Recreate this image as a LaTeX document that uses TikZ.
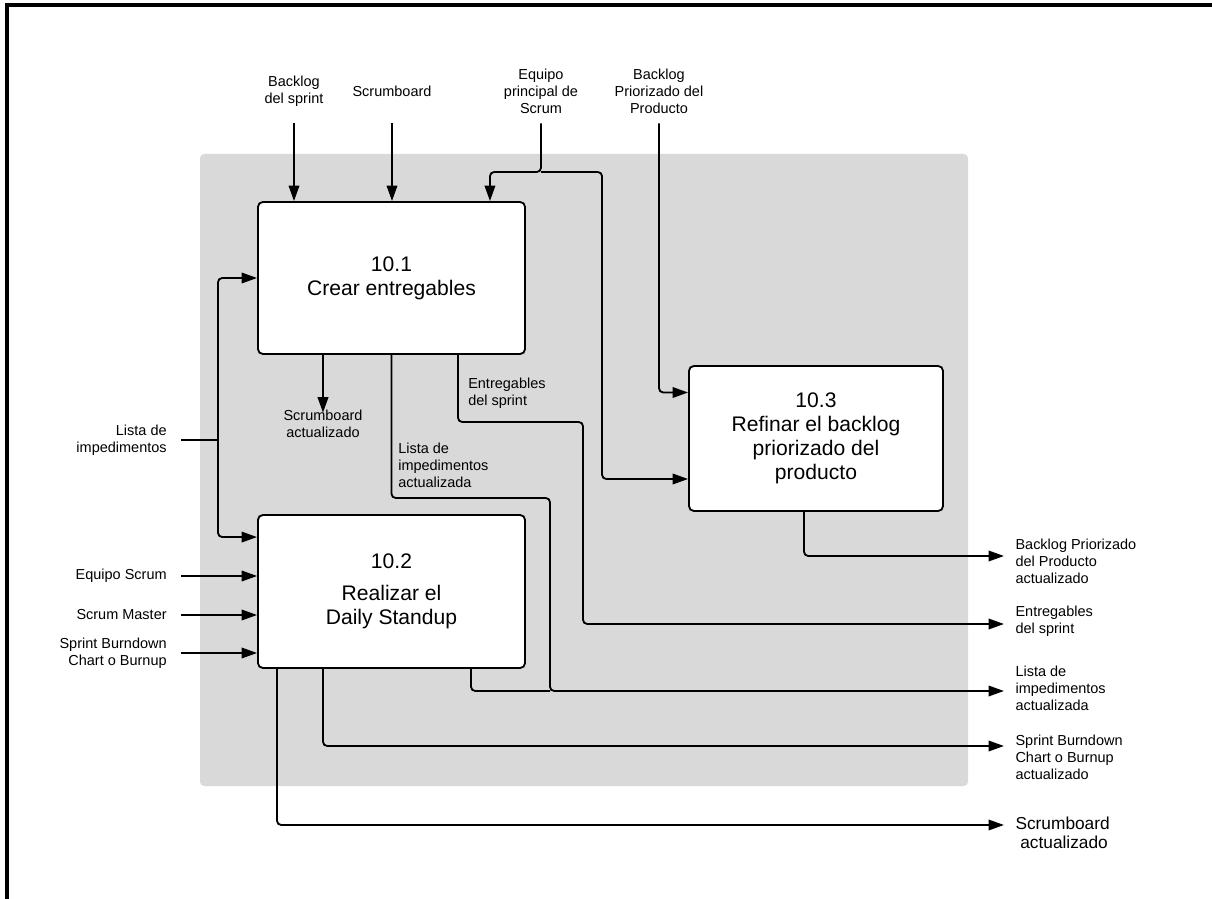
\documentclass[tikz,border=0pt]{standalone}
\usepackage{fontspec}
\setmainfont{Liberation Sans}
\usetikzlibrary{arrows.meta, positioning, calc}
\definecolor{scrumgray}{RGB}{217,217,217}

\begin{document}
\begin{tikzpicture}[x=0.025cm, y=-0.025cm,
  proc/.style={rectangle, rounded corners=3.5pt, draw=black, fill=white,
               line width=1.3pt, align=center,
               font=\fontsize{15}{17}\selectfont},
  toplbl/.style={align=center, minimum height=1.6cm, inner sep=0pt,
                 font=\fontsize{10.3}{12.1}\selectfont},
  leftlbl/.style={anchor=east, align=right, inner xsep=10pt, inner ysep=1pt,
                  font=\fontsize{10.3}{12.1}\selectfont},
  outlbl/.style={anchor=west, align=left, inner xsep=8pt, inner ysep=1pt,
                 font=\fontsize{10.3}{12.1}\selectfont},
  midlbl/.style={align=left, inner sep=0pt,
                 font=\fontsize{10.3}{12.1}\selectfont},
  arr/.style={-{Triangle[length=11pt, width=7.5pt]}, line width=1.3pt,
              rounded corners=3pt},
  plain/.style={line width=1.3pt, rounded corners=3pt}
]
\useasboundingbox (0,0) rectangle (1212,899);

% ── Frame and grey process area ──────────────────────────────────────────
\draw[line width=2.2pt] (7,899) -- (7,5) -- (1212,5);
\fill[scrumgray, rounded corners=3pt] (200,154) rectangle (968,786);

% ── Processes ────────────────────────────────────────────────────────────
\node[proc, minimum width=6.675cm, minimum height=3.8cm] (crear) at (391.5,278)
      {10.1\\Crear entregables};
\node[proc, minimum width=6.675cm, minimum height=3.825cm] (daily) at (391.5,591.5)
      {10.2\\[6pt]Realizar el\\Daily Standup};
\node[proc, minimum width=6.35cm, minimum height=3.625cm] (refinar) at (816,438.5)
      {10.3\\Refinar el backlog\\priorizado del\\producto};

% ── Inputs: top ──────────────────────────────────────────────────────────
\node[toplbl] (inBs) at (294,91) {Backlog\\del sprint};
\node[toplbl] (inSb) at (392,91) {Scrumboard};
\node[toplbl] (inEq) at (541,91) {Equipo\\principal de\\Scrum};
\node[toplbl] (inBp) at (659,91) {Backlog\\Priorizado del\\Producto};

\coordinate (jEq) at (541,172);

\draw[arr] (inBs.south) -- (inBs.south |- crear.north);
\draw[arr] (inSb.south) -- (inSb.south |- crear.north);
\draw[arr] (inEq.south) -- (jEq) -| ($(crear.north east)+(-36,0)$);
\draw[arr] (jEq) -| ($(refinar.west)+(-86,40.5)$) -- ($(refinar.west)+(0,40.5)$);
\draw[arr] (inBp.south) |- ($(refinar.west)+(0,-46)$);

% ── Inputs: left ─────────────────────────────────────────────────────────
\node[leftlbl] (inImp) at (181,440) {Lista de\\impedimentos};
\node[leftlbl] (inEs)  at (181,576) {Equipo Scrum};
\node[leftlbl] (inSm)  at (181,615) {Scrum Master};
\node[leftlbl] (inBc)  at (181,653) {Sprint Burndown\\Chart o Burnup};

\coordinate (jImp) at (218,440);

\draw[plain] (inImp.east) -- (jImp);
\draw[arr] (jImp) |- (crear.west);
\draw[arr] (jImp) |- ($(daily.north west)+(0,23)$);
\draw[arr] (inEs.east) -- (inEs.east -| daily.west);
\draw[arr] (inSm.east) -- (inSm.east -| daily.west);
\draw[arr] (inBc.east) -- (inBc.east -| daily.west);

% ── Outputs: labels ──────────────────────────────────────────────────────
\node[midlbl] (outSa1) at (323,424) {\hfil Scrumboard\hfil\\\hfil actualizado\hfil};
\node[midlbl, anchor=west] (midEn) at (468,393) {Entregables\\del sprint};
\node[midlbl, anchor=west] (midLi) at (398,465) {Lista de\\impedimentos\\actualizada};

\node[outlbl] (outBp) at (1004,561) {Backlog Priorizado\\del Producto\\actualizado};
\node[outlbl] (outEn) at (1004,621) {Entregables\\del sprint};
\node[outlbl] (outLi) at (1004,688) {Lista de\\impedimentos\\actualizada};
\node[outlbl] (outBc) at (1004,757) {Sprint Burndown\\Chart o Burnup\\actualizado};
\node[outlbl, font=\fontsize{12.3}{13.6}\selectfont] (outSa2) at (1004,833)
      {Scrumboard\\\ actualizado};

% ── Outputs: connectors ──────────────────────────────────────────────────
\coordinate (kEn) at (583,422);
\coordinate (jEn) at (583,624);
\coordinate (kLi) at (550,498);
\coordinate (jLi) at (550,691);

\draw[arr] (outSa1.north |- crear.south) -- ([yshift=-2pt]outSa1.north);
\draw[arr] ($(crear.south)+(66.5,0)$) |- (kEn) -- (jEn) -- (jEn -| outEn.west);
\draw[arr] (crear.south) |- (kLi) -- (jLi) -- (jLi -| outLi.west);
\draw[plain] ($(daily.south)+(79.5,0)$) |- (jLi);
\draw[arr] ($(refinar.south)+(-12,0)$) |- ($(outBp.west)+(0,-5)$);
\draw[arr] ($(daily.south)+(-68.5,0)$) |- ($(outBc.west)+(0,-11)$);
\draw[arr] ($(daily.south)+(-114.5,0)$) |- ($(outSa2.west)+(0,-8)$);

\end{tikzpicture}
\end{document}
